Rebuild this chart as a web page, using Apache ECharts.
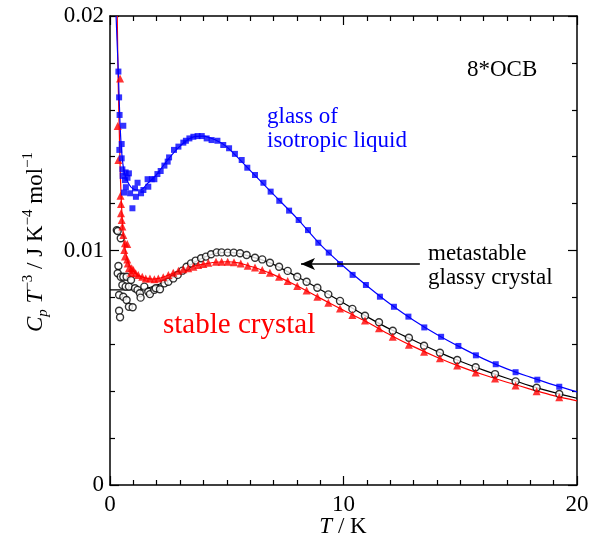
<!DOCTYPE html>
<html>
<head>
<meta charset="utf-8">
<style>html,body{margin:0;padding:0;background:#fff;}#c{width:593px;height:543px;}</style>
<script src="https://cdn.jsdelivr.net/npm/echarts@6/dist/echarts.min.js"></script>
</head>
<body>
<div id="c"></div>
<script>
// ---- data (T / K, Cp T^-3 / J K^-4 mol^-1) ----
var xTicks = [0, 10, 20];
var yTicks = [0, 0.01, 0.02];

var glassLiquidPts = [
[0.36,0.01763],[0.39,0.01653],[0.41,0.01578],[0.57,0.01532],[0.50,0.01454],[0.40,0.01429],
[0.50,0.01393],[0.53,0.01346],[0.67,0.01333],[0.81,0.01329],[0.54,0.01318],[0.64,0.01300],
[0.75,0.01310],[0.68,0.01270],[0.60,0.01247],[0.86,0.01244],[0.96,0.01180],[1.07,0.01265],
[1.11,0.01229],[1.18,0.01289],[1.33,0.01244],[1.43,0.01258],[1.64,0.01272],[1.61,0.01304],
[1.79,0.01304],[1.90,0.01304],[2.03,0.01326],[2.17,0.01339],[2.33,0.01362],[2.47,0.01379],
[2.53,0.01397],[2.74,0.01429],[2.93,0.01443],[3.14,0.01460],[3.25,0.01468],[3.40,0.01478],
[3.57,0.01485],[3.75,0.01488],[3.93,0.01488],[4.14,0.01478],[4.35,0.01471],[4.60,0.01468],
[4.85,0.01450],[5.10,0.01436],[5.35,0.01412],[5.64,0.01386],[5.88,0.01353],[6.21,0.01322],
[6.57,0.01289],[6.88,0.01251],[7.25,0.01212],[7.67,0.01170],[8.08,0.01130],[8.48,0.01087],
[8.92,0.01033],[9.37,0.00991],[9.85,0.00942],[10.39,0.00896],[10.96,0.00853],[11.56,0.00803],
[12.16,0.00760],[12.78,0.00718],[13.46,0.00672],[14.18,0.00632],[14.92,0.00593],[15.67,0.00553],
[16.52,0.00515],[17.37,0.00481],[18.30,0.00449],[19.24,0.00419]
];
var glassLiquidFit = [
[0.26,0.0200],[0.30,0.0190],[0.36,0.0175],[0.43,0.0154],[0.50,0.0142],[0.60,0.0134],
[0.80,0.01285],[1.00,0.01262],[1.30,0.01258],[1.60,0.01285],[2.00,0.01325],[2.50,0.01390],
[3.00,0.01445],[3.50,0.01482],[4.00,0.01488],[4.50,0.01472],[5.00,0.01442],[6.00,0.01342],
[7.00,0.01239],[8.00,0.01138],[9.00,0.01026],[10.00,0.00933],[11.00,0.00850],[12.00,0.00772],
[13.00,0.00703],[14.00,0.00642],[15.00,0.00588],[16.00,0.00538],[17.00,0.00495],[18.00,0.00460],
[19.00,0.00427],[20.00,0.00397]
];

var glassyCrystalPts = [
[0.29,0.01087],[0.33,0.01083],[0.46,0.01052],[0.36,0.00934],[0.33,0.00903],[0.46,0.00888],
[0.57,0.00888],[0.71,0.00888],[0.53,0.00853],[0.67,0.00846],[0.81,0.00846],[0.90,0.00874],
[1.07,0.00839],[1.18,0.00832],[1.28,0.00818],[1.47,0.00846],[0.39,0.00810],[0.57,0.00803],
[0.71,0.00789],[0.81,0.00760],[0.97,0.00758],[0.39,0.00743],[0.43,0.00715],[1.31,0.00799],
[1.64,0.00824],[1.71,0.00814],[1.90,0.00832],[1.96,0.00839],[2.14,0.00835],[2.33,0.00860],
[2.50,0.00867],[2.71,0.00881],[2.90,0.00896],[3.10,0.00914],[3.28,0.00931],[3.47,0.00945],
[3.67,0.00957],[3.90,0.00967],[4.11,0.00974],[4.33,0.00984],[4.57,0.00992],[4.78,0.00992],
[5.04,0.00991],[5.30,0.00991],[5.57,0.00988],[5.85,0.00981],[6.21,0.00969],[6.52,0.00962],
[6.85,0.00948],[7.24,0.00931],[7.61,0.00913],[8.02,0.00888],[8.42,0.00867],[8.88,0.00841],
[9.35,0.00813],[9.85,0.00785],[10.38,0.00751],[10.92,0.00722],[11.52,0.00694],[12.11,0.00658],
[12.80,0.00628],[13.45,0.00594],[14.13,0.00564],[14.87,0.00533],[15.66,0.00502],[16.49,0.00473],
[17.37,0.00442],[18.27,0.00415],[19.24,0.00388]
];
var glassyCrystalFit = [
[0.0,0.00832],[0.5,0.00832],[1.0,0.00833],[1.5,0.00838],[2.0,0.00852],[2.5,0.00873],
[3.0,0.00905],[3.5,0.00942],[4.0,0.00970],[4.5,0.00987],[5.0,0.00992],[5.5,0.00988],
[6.0,0.00975],[6.5,0.00960],[7.0,0.00941],[8.0,0.00889],[9.0,0.00834],[10.0,0.00776],
[11.0,0.00718],[12.0,0.00664],[13.0,0.00617],[14.0,0.00570],[15.0,0.00528],[16.0,0.00490],
[17.0,0.00455],[18.0,0.00423],[19.0,0.00395],[20.0,0.00370]
];

var stableCrystalPts = [
[0.43,0.01734],[0.33,0.01531],[0.36,0.01386],[0.45,0.01233],[0.47,0.01198],[0.47,0.01159],
[0.50,0.01130],[0.53,0.01102],[0.57,0.01066],[0.64,0.01031],[0.74,0.01028],[0.61,0.01002],
[0.64,0.00974],[0.74,0.00962],[0.76,0.00945],[0.81,0.00924],[0.93,0.00924],[0.90,0.00905],
[1.00,0.00917],[1.10,0.00903],[1.21,0.00896],[1.38,0.00888],[1.53,0.00881],[1.71,0.00881],
[1.90,0.00877],[2.07,0.00881],[2.28,0.00886],[2.50,0.00896],[2.71,0.00905],[2.93,0.00914],
[3.14,0.00920],[3.35,0.00924],[3.57,0.00931],[3.78,0.00938],[4.00,0.00942],[4.21,0.00948],
[4.54,0.00952],[4.78,0.00952],[5.04,0.00952],[5.31,0.00950],[5.60,0.00945],[5.90,0.00935],
[6.21,0.00927],[6.52,0.00917],[6.85,0.00905],[7.24,0.00888],[7.61,0.00870],[8.02,0.00849],
[8.42,0.00829],[8.88,0.00803],[9.35,0.00777],[9.85,0.00753],[10.38,0.00725],[10.92,0.00701],
[11.52,0.00668],[12.11,0.00632],[12.80,0.00598],[13.45,0.00568],[14.13,0.00540],[14.87,0.00510],
[15.66,0.00480],[16.49,0.00454],[17.37,0.00424],[18.27,0.00400],[19.24,0.00374]
];
var stableCrystalFit = [
[0.31,0.0200],[0.35,0.0172],[0.40,0.0150],[0.45,0.0130],[0.50,0.0118],[0.55,0.0109],
[0.60,0.01035],[0.70,0.00980],[0.80,0.00945],[1.00,0.00912],[1.20,0.00895],[1.50,0.00883],
[1.80,0.00878],[2.10,0.00881],[2.50,0.00895],[3.00,0.00915],[3.50,0.00931],[4.00,0.00942],
[4.50,0.00950],[5.00,0.00952],[5.50,0.00947],[6.00,0.00933],[6.50,0.00917],[7.00,0.00897],
[8.00,0.00850],[9.00,0.00797],[10.00,0.00745],[11.00,0.00695],[12.00,0.00640],[13.00,0.00590],
[14.00,0.00545],[15.00,0.00505],[16.00,0.00470],[17.00,0.00438],[18.00,0.00409],[19.00,0.00381],
[20.00,0.00359]
];

var arrowFrom = [13.27, 0.00942];
var arrowTo = [8.18, 0.00942];

// ---- chart ----
var FONT = 'Liberation Serif';
var BLUE = '#0000ff', RED = '#ff0000', BLACK = '#000000';
var chart = echarts.init(document.getElementById('c'), null, {renderer: 'canvas'});

function axisCommon(show) {
  return {
    min: 0,
    axisLine: {show: true, onZero: false, lineStyle: {color: BLACK, width: 1.5}},
    axisTick: {show: true, inside: true, length: 9, lineStyle: {color: BLACK, width: 1.2}},
    minorTick: {show: true, length: 5, lineStyle: {color: BLACK, width: 1.2}},
    splitLine: {show: false},
    axisLabel: {show: show, color: BLACK, fontFamily: FONT, fontSize: 23}
  };
}
var xb = Object.assign(axisCommon(true), {type: 'value', position: 'bottom', max: 20, interval: 10});
xb.minorTick.splitNumber = 10; xb.axisLabel.margin = 8;
xb.axisLabel.customValues = xTicks;
var xt = Object.assign(axisCommon(false), {type: 'value', position: 'top', max: 20, interval: 10});
xt.minorTick.splitNumber = 10;
var yl = Object.assign(axisCommon(true), {type: 'value', position: 'left', max: 0.02, interval: 0.01});
yl.minorTick.splitNumber = 5; yl.axisLabel.margin = 6;
yl.axisLabel.customValues = yTicks;
yl.axisLabel.formatter = function (v) { return String(v); };
var yr = Object.assign(axisCommon(false), {type: 'value', position: 'right', max: 0.02, interval: 0.01});
yr.minorTick.splitNumber = 5;

function lineS(data, color) {
  return {type: 'line', data: data, showSymbol: false, symbol: 'none', smooth: 0.3,
    lineStyle: {color: color, width: 1.2}, clip: true, z: 2, silent: true, animation: false};
}
function scat(data, symbol, size, color, empty) {
  return {type: 'scatter', data: data, symbol: symbol, symbolSize: size, clip: true, z: 3,
    itemStyle: empty ? {color: '#ffffff', borderColor: color, borderWidth: 1.4} : {color: color},
    silent: true, animation: false};
}
function txt(lines, x, y, color, size) {
  var fs = size || 23;
  var s = lines.map(function (l) { return '{a|' + l + '}'; }).join('\n');
  return {type: 'text', x: x, y: y, silent: true,
    style: {text: s, x: 0, y: 0, align: 'left', verticalAlign: 'top',
      rich: {a: {fontFamily: FONT, fontSize: fs, fill: color, lineHeight: fs + 1}}}};
}

var option = {
  animation: false,
  grid: {left: 110, right: 16, top: 16, bottom: 58, containLabel: false},
  xAxis: [xb, xt],
  yAxis: [yl, yr],
  series: [
    lineS(glassyCrystalFit, BLACK),
    scat(glassyCrystalPts, 'circle', 7, BLACK, true),
    lineS(stableCrystalFit, RED),
    scat(stableCrystalPts, 'triangle', 8, RED, false),
    lineS(glassLiquidFit, BLUE),
    scat(glassLiquidPts, 'rect', 6, BLUE, false),
    {type: 'line', data: [], silent: true,
      markLine: {silent: true, animation: false, symbol: ['none', 'arrow'], symbolSize: [9, 14],
        label: {show: false}, lineStyle: {color: BLACK, width: 1.5, type: 'solid'},
        data: [[{coord: arrowFrom}, {coord: arrowTo}]]}}
  ],
  graphic: [
    txt(['8*OCB'], 467, 58, BLACK),
    txt(['glass of', 'isotropic liquid'], 267, 105, BLUE),
    txt(['metastable', 'glassy crystal'], 428, 242, BLACK),
    txt(['stable crystal'], 163, 310, RED, 29),
    {type: 'text', x: 343, y: 527, silent: true,
      style: {text: '{i|T}{r| / K}', x: 0, y: 0, align: 'center', verticalAlign: 'middle',
        rich: {i: {fontFamily: FONT, fontSize: 23, fontStyle: 'italic', fill: BLACK},
               r: {fontFamily: FONT, fontSize: 23, fill: BLACK}}}},
    {type: 'text', x: 36, y: 242, rotation: Math.PI / 2, silent: true,
      style: {text: '{i|C}{sub|p}{i| T}{sup|−3}{r| / J K}{sup|−4}{r| mol}{sup|−1}', x: 0, y: 0,
        align: 'center', verticalAlign: 'middle',
        rich: {
          i: {fontFamily: FONT, fontSize: 23, fontStyle: 'italic', fill: BLACK, lineHeight: 30},
          r: {fontFamily: FONT, fontSize: 23, fill: BLACK, lineHeight: 30},
          sub: {fontFamily: FONT, fontSize: 15, fontStyle: 'italic', fill: BLACK, verticalAlign: 'bottom'},
          sup: {fontFamily: FONT, fontSize: 15, fill: BLACK, verticalAlign: 'top'}
        }}}
  ]
};
chart.setOption(option);
</script>
</body>
</html>
